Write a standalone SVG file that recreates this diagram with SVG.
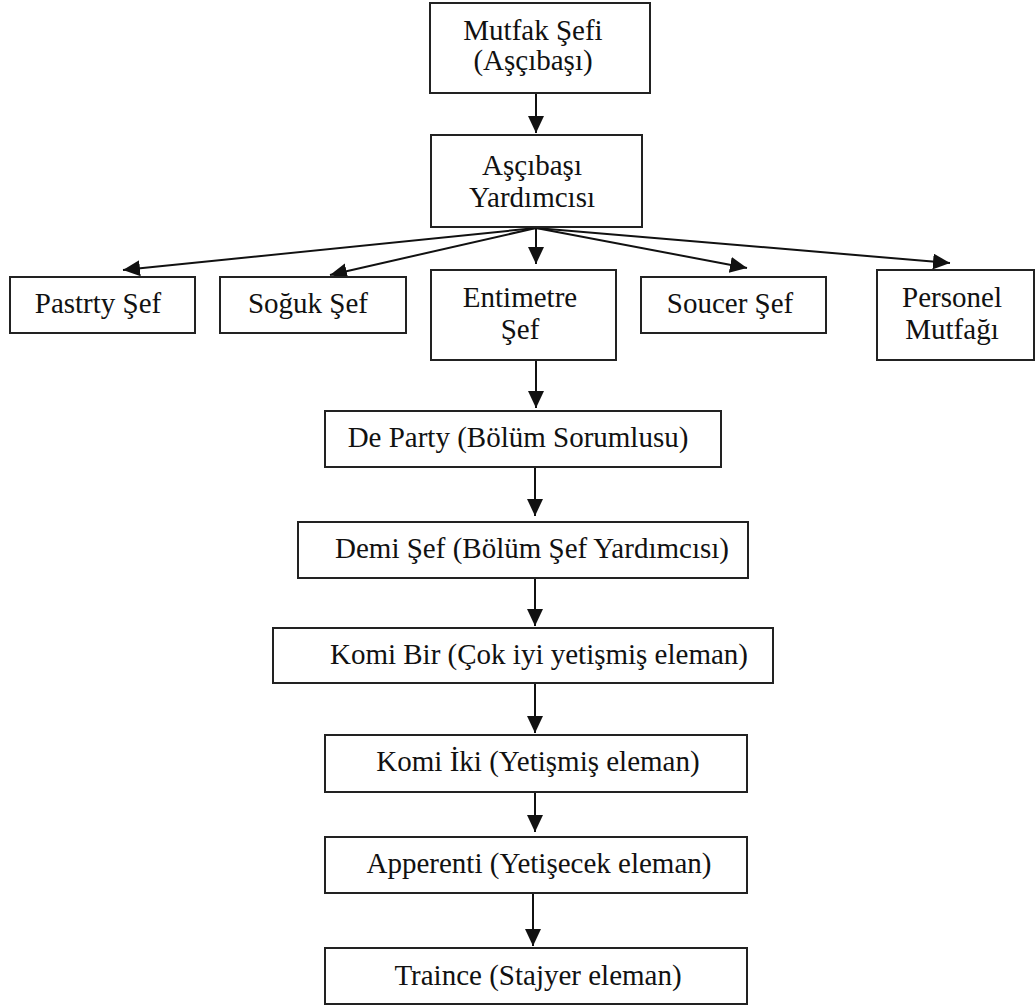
<svg xmlns="http://www.w3.org/2000/svg" width="1035" height="1006" viewBox="0 0 1035 1006">
<style>
rect{fill:#fff;stroke:#222;stroke-width:2}
text{font-family:"Liberation Serif","Times New Roman",serif;font-size:29px;fill:#111;text-anchor:middle}
.c line{stroke:#111;stroke-width:2;marker-end:url(#ah)}
</style>
<defs>
<marker id="ah" markerUnits="userSpaceOnUse" markerWidth="18" markerHeight="18" refX="17" refY="8" orient="auto">
<path d="M0,0 L17,8 L0,16 Z" fill="#111"/>
</marker>
</defs>
<rect x="0" y="0" width="1035" height="1006" style="stroke:none"/>
<g class="c" id="connectors">
<line x1="536" y1="93" x2="536" y2="133"/>
<line x1="536" y1="228" x2="123" y2="270"/>
<line x1="536" y1="228" x2="330" y2="275"/>
<line x1="536" y1="228" x2="536" y2="264"/>
<line x1="536" y1="228" x2="747" y2="268"/>
<line x1="536" y1="228" x2="950" y2="263"/>
<line x1="536" y1="360" x2="536" y2="408"/>
<line x1="535" y1="467" x2="535" y2="516"/>
<line x1="535" y1="578" x2="535" y2="626"/>
<line x1="535" y1="683" x2="535" y2="733"/>
<line x1="535" y1="792" x2="535" y2="832"/>
<line x1="533" y1="893" x2="533" y2="946"/>
</g>
<g id="n1"><rect x="430" y="3" width="220" height="90"/><text x="533" y="40">Mutfak Şefi</text><text x="533" y="70">(Aşçıbaşı)</text></g>
<g id="n2"><rect x="431" y="135" width="211" height="92"/><text x="532" y="175">Aşçıbaşı</text><text x="532" y="207">Yardımcısı</text></g>
<g id="n3"><rect x="10" y="277" width="185" height="56"/><text x="98" y="313">Pastrty Şef</text></g>
<g id="n4"><rect x="220" y="277" width="186" height="56"/><text x="308" y="313">Soğuk Şef</text></g>
<g id="n5"><rect x="431" y="270" width="185" height="90"/><text x="520" y="307">Entimetre</text><text x="520" y="339">Şef</text></g>
<g id="n6"><rect x="641" y="277" width="185" height="56"/><text x="730" y="313">Soucer Şef</text></g>
<g id="n7"><rect x="877" y="270" width="157" height="90"/><text x="952" y="307">Personel</text><text x="952" y="339">Mutfağı</text></g>
<g id="n8"><rect x="325" y="411" width="396" height="56"/><text x="518" y="447">De Party (Bölüm Sorumlusu)</text></g>
<g id="n9"><rect x="298" y="522" width="450" height="56"/><text x="532" y="558">Demi Şef (Bölüm Şef Yardımcısı)</text></g>
<g id="n10"><rect x="273" y="628" width="500" height="55"/><text x="539" y="664">Komi Bir (Çok iyi yetişmiş eleman)</text></g>
<g id="n11"><rect x="325" y="735" width="422" height="57"/><text x="538" y="771">Komi İki (Yetişmiş eleman)</text></g>
<g id="n12"><rect x="325" y="837" width="422" height="56"/><text x="539" y="873">Apperenti (Yetişecek eleman)</text></g>
<g id="n13"><rect x="325" y="948" width="422" height="56"/><text x="538" y="985">Traince (Stajyer eleman)</text></g>
</svg>
